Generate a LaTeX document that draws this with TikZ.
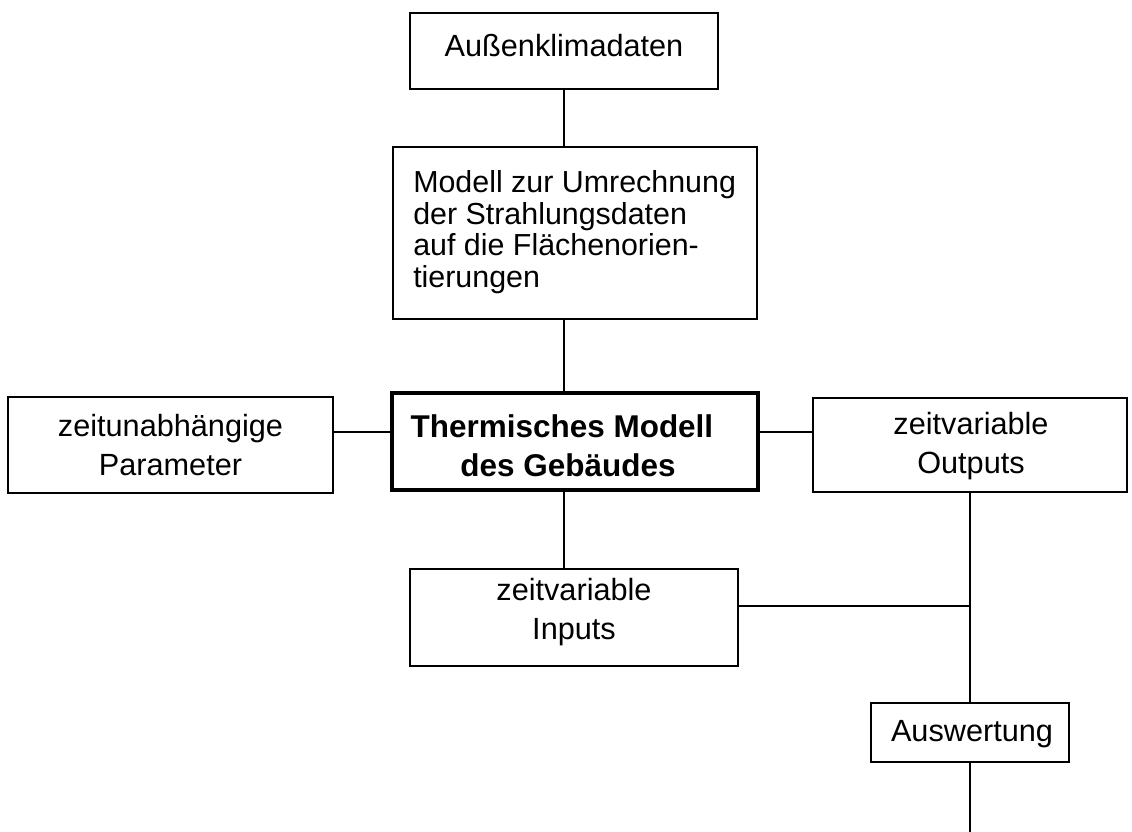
\documentclass[tikz,border=0pt]{standalone}
\usepackage{fontspec}
\setmainfont{Liberation Sans}
\begin{document}
\begin{tikzpicture}[x=0.75pt,y=-0.75pt,
  box/.style={draw,line width=1.3pt,inner sep=0pt},
  thickbox/.style={box,line width=2.4pt},
  txt/.style={inner sep=0pt,align=center,font=\fontsize{23}{29.25}\selectfont},
  boldtxt/.style={txt,font=\fontsize{23.6}{29.5}\selectfont\bfseries},
  conn/.style={line width=1.3pt}]
\useasboundingbox (0,0) rectangle (1132,832);
% boxes
\node[box,minimum width=231pt,minimum height=57pt] (ak) at (564,51) {};
\node[box,minimum width=273pt,minimum height=129pt] (mod) at (575,233) {};
\node[box,minimum width=243.75pt,minimum height=72pt] (par) at (170.5,445) {};
\node[thickbox,minimum width=274.5pt,minimum height=72.75pt] (th) at (575,441.5) {};
\node[box,minimum width=235.5pt,minimum height=70.5pt] (out) at (970,445) {};
\node[box,minimum width=246pt,minimum height=72.75pt] (inp) at (574,617.5) {};
\node[box,minimum width=148.5pt,minimum height=44.25pt] (aw) at (970,732.5) {};
% texts
\node[txt] (akT) at (564,46) {Außenklimadaten};
\node[txt,align=left,anchor=west,font=\fontsize{22.8}{23.6}\selectfont] (modT) at (413,232)
  {Modell zur Umrechnung\\der Strahlungsdaten\\auf die Flächenorien-\\tierungen};
\node[txt] (parT) at (170.5,445) {zeitunabhängige\\Parameter};
\node[boldtxt] (thT) at (568,446) {Thermisches Modell\hspace*{9pt}\\des Gebäudes};
\node[txt] (outT) at (971,446) {zeitvariable\\Outputs};
\node[txt] (inpT) at (574,612) {zeitvariable\\Inputs};
\node[txt] (awT) at (972,734) {Auswertung};
% connectors
\coordinate (hy) at (0,432);
\coordinate (iy) at (0,606);
\coordinate (bot) at (970,832);
\draw[conn] (ak.south) -- (ak.south |- mod.north);
\draw[conn] (mod.south -| ak.south) -- (ak.south |- th.north);
\draw[conn] (th.south -| ak.south) -- (ak.south |- inp.north);
\draw[conn] (par.east |- hy) -- (th.west |- hy);
\draw[conn] (th.east |- hy) -- (out.west |- hy);
\draw[conn] (out.south) -- (aw.north);
\draw[conn] (aw.south) -- (bot);
\draw[conn] (inp.east |- iy) -- (out.south |- iy);
\end{tikzpicture}
\end{document}
